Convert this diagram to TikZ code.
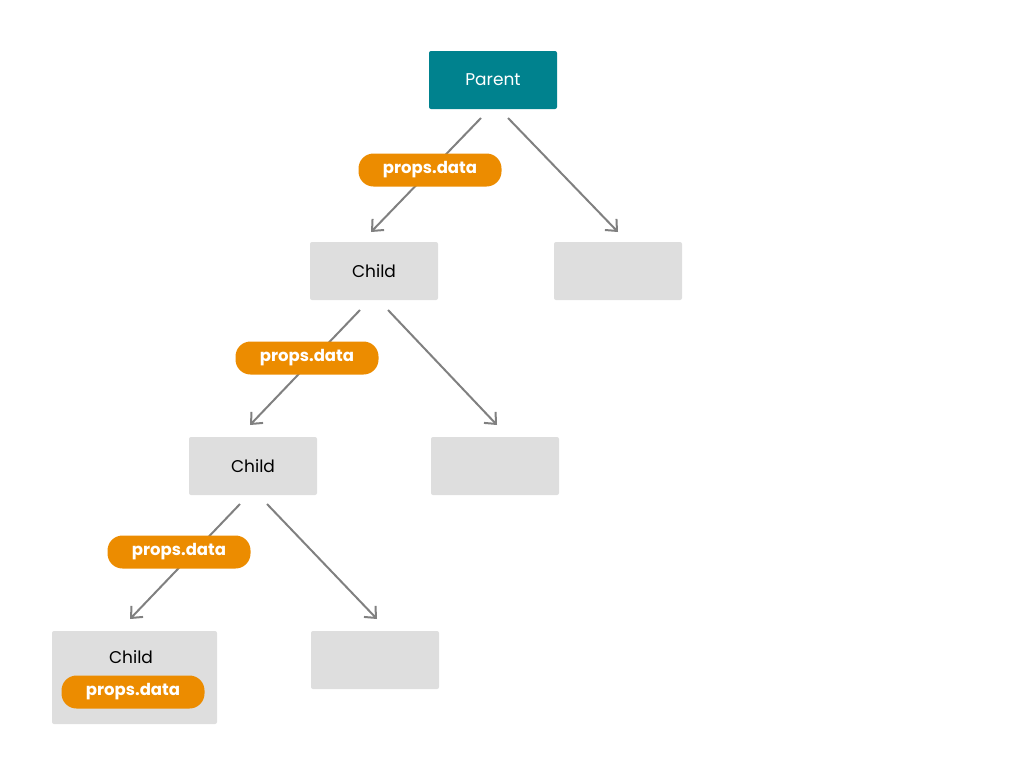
\documentclass[tikz,border=0pt]{standalone}
\usepackage{fontspec}
\setmainfont{Poppins}
\usetikzlibrary{arrows.meta}
\definecolor{teal}{RGB}{0,130,142}
\definecolor{boxgray}{RGB}{222,222,222}
\definecolor{orng}{RGB}{236,140,0}
\definecolor{arr}{RGB}{128,128,128}
\tikzset{
  box/.style={fill=boxgray,rounded corners=2pt,minimum width=128pt,minimum height=58pt,inner sep=0pt,font=\fontsize{17}{20}\selectfont},
  pill/.style={fill=orng,text=white,rounded corners=15pt,minimum width=143pt,minimum height=33pt,inner sep=0pt,font=\fontsize{16.5}{20}\selectfont\bfseries},
  conn/.style={draw=arr,line width=2pt,-{Straight Barb[length=9pt,width=16pt,line width=2pt]}}
}
\begin{document}
\begin{tikzpicture}[x=1pt,y=-1pt]
\useasboundingbox (0,0) rectangle (1024,777);
\node[box,fill=teal,text=white] (p) at (493,80) {Parent};
\node[box] (c1) at (374,271) {Child};
\node[box] (e1) at (618,271) {};
\node[box] (c2) at (253,466) {Child};
\node[box] (e2) at (495,466) {};
\node[box,minimum width=165pt,minimum height=93pt] (c3) at (134.5,677.5) {};
\node[box] (e3) at (375,660) {};
\node[font=\fontsize{17}{20}\selectfont] (c3t) at (131,657) {Child};
\node[pill] (l4) at (133,692) {props.data};
\coordinate (a1) at (481,118); \coordinate (b1) at (371,232);
\coordinate (a2) at (508,118); \coordinate (b2) at (618,232);
\coordinate (a3) at (360,310); \coordinate (b3) at (250,425);
\coordinate (a4) at (388,310); \coordinate (b4) at (497,425);
\coordinate (a5) at (240,504); \coordinate (b5) at (130,619);
\coordinate (a6) at (267,504); \coordinate (b6) at (377,619);
\draw[conn] (a1) -- (b1);
\draw[conn] (a2) -- (b2);
\draw[conn] (a3) -- (b3);
\draw[conn] (a4) -- (b4);
\draw[conn] (a5) -- (b5);
\draw[conn] (a6) -- (b6);
\node[pill] (l1) at (430,170) {props.data};
\node[pill] (l2) at (307,358) {props.data};
\node[pill] (l3) at (179,552) {props.data};
\end{tikzpicture}
\end{document}
